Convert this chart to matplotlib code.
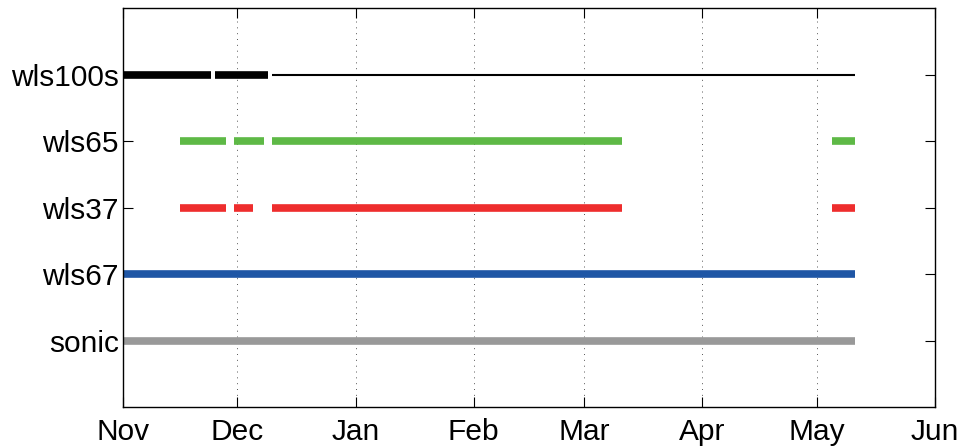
import numpy as np
import matplotlib.pyplot as plt
import matplotlib.dates as mdates
from datetime import date

plt.rcParams['font.family'] = ['Liberation Sans', 'DejaVu Sans']

# instrument rows, bottom to top
instruments = ['sonic', 'wls67', 'wls37', 'wls65', 'wls100s']
colors = ['#999999', '#1f56a5', '#ee2d2d', '#5eb946', '#000000']

# periods with data for each instrument (start, end)
sonic_periods = [(date(2015, 11, 1), date(2016, 5, 11))]
wls67_periods = [(date(2015, 11, 1), date(2016, 5, 11))]
wls37_periods = [(date(2015, 11, 16), date(2015, 11, 28)),
                 (date(2015, 11, 30), date(2015, 12, 5)),
                 (date(2015, 12, 10), date(2016, 3, 11)),
                 (date(2016, 5, 5), date(2016, 5, 11))]
wls65_periods = [(date(2015, 11, 16), date(2015, 11, 28)),
                 (date(2015, 11, 30), date(2015, 12, 8)),
                 (date(2015, 12, 10), date(2016, 3, 11)),
                 (date(2016, 5, 5), date(2016, 5, 11))]
wls100s_periods = [(date(2015, 11, 1), date(2015, 11, 24)),
                   (date(2015, 11, 25), date(2015, 12, 9))]
# wls100s running in reduced mode afterwards (thin line)
wls100s_thin = [(date(2015, 12, 10), date(2016, 5, 11))]

all_periods = [sonic_periods, wls67_periods, wls37_periods, wls65_periods, wls100s_periods]

fig = plt.figure(figsize=(9.61, 4.47), dpi=100)
ax = fig.add_axes([0.128, 0.0895, 0.845, 0.8925])

for i, periods in enumerate(all_periods):
    for start, end in periods:
        ax.plot([start, end], [i + 1, i + 1], color=colors[i], lw=5.5,
                solid_capstyle='butt')
for start, end in wls100s_thin:
    ax.plot([start, end], [5, 5], color='black', lw=1.5, solid_capstyle='butt')

ax.set_xlim(date(2015, 11, 1), date(2016, 6, 1))
ax.set_ylim(0, 6)
ax.set_yticks(range(1, 6))
ax.set_yticklabels(instruments)
ax.xaxis.set_major_locator(mdates.MonthLocator())
ax.xaxis.set_major_formatter(mdates.DateFormatter('%b'))
ax.tick_params(axis='both', direction='in', length=7, labelsize=21.5,
               top=True, right=True, width=0.8)
ax.tick_params(axis='x', pad=8)
ax.tick_params(axis='y', pad=3)
ax.grid(axis='x', linestyle=(0, (1, 5)), color='#555555', lw=0.7)
for s in ax.spines.values():
    s.set_linewidth(1.0)

fig.savefig('out.png', dpi=100)
